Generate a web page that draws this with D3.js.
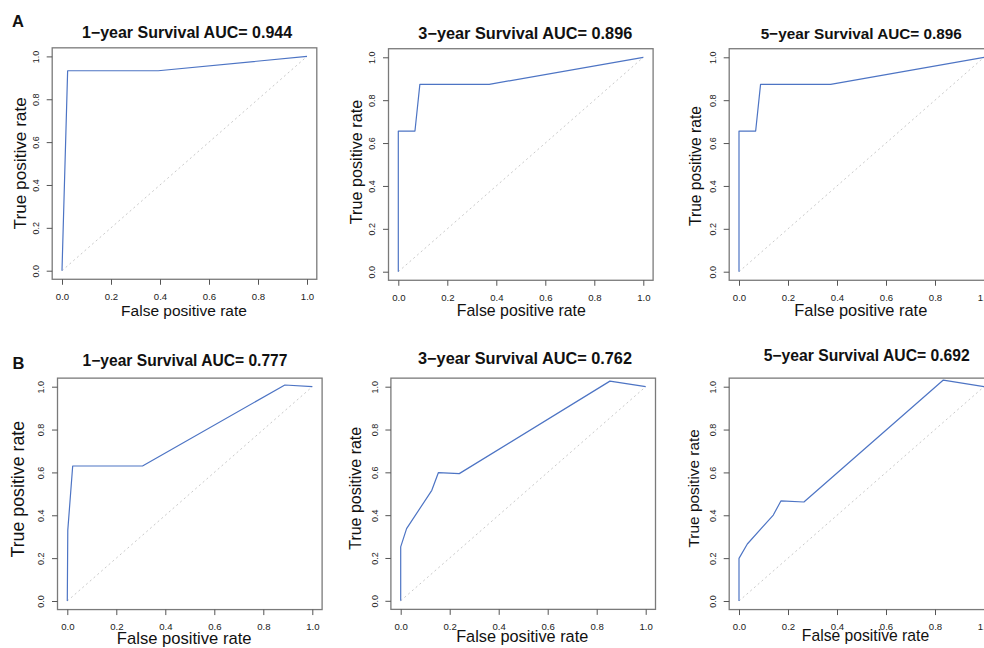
<!DOCTYPE html>
<html>
<head>
<meta charset="utf-8">
<script src="https://cdn.jsdelivr.net/npm/d3@7"></script>
<style>
  html, body { margin: 0; padding: 0; background: #fff; }
  svg { display: block; font-family: "Liberation Sans", Arial, Helvetica, sans-serif; }
</style>
</head>
<body>
<svg id="chart" width="984" height="648"></svg>
<script>
// ---------- DATA ----------
const rowLabels = ["A", "B"];
const titles = [
  "1\u2212year Survival AUC= 0.944",
  "3\u2212year Survival AUC= 0.896",
  "5\u2212year Survival AUC= 0.896",
  "1\u2212year Survival AUC= 0.777",
  "3\u2212year Survival AUC= 0.762",
  "5\u2212year Survival AUC= 0.692"
];
const xLabel = "False positive rate";
const yLabel = "True positive rate";
const tickValues = [0, 0.2, 0.4, 0.6, 0.8, 1.0];

const fprA1 = [0, 0.023, 0.393, 1];
const tprA1 = [0, 0.933, 0.933, 1];
const fprA3y = [0, 0, 0.068, 0.088, 0.371, 1];
const tprA3y = [0, 0.656, 0.656, 0.874, 0.874, 1];
const fprA5 = [0, 0, 0.068, 0.088, 0.374, 1];
const tprA5 = [0, 0.656, 0.656, 0.874, 0.874, 1];
const fprB1 = [0, 0.002, 0.022, 0.307, 0.888, 1];
const tprB1 = [0, 0.33, 0.63, 0.63, 1.008, 1];
const fprB3y = [0, 0, 0.024, 0.127, 0.154, 0.239, 0.854, 1];
const tprB3y = [0, 0.252, 0.337, 0.516, 0.599, 0.594, 1.026, 1];
const fprB5 = [0, 0, 0.034, 0.140, 0.171, 0.265, 0.834, 1];
const tprB5 = [0, 0.199, 0.266, 0.401, 0.467, 0.462, 1.031, 1];

const fprs = [fprA1, fprA3y, fprA5, fprB1, fprB3y, fprB5];
const tprs = [tprA1, tprA3y, tprA5, tprB1, tprB3y, tprB5];

// ---------- LAYOUT (pixels) ----------
// x0: pixel of fpr=0 ; y1/y0: pixel of tpr=1 / tpr=0
const layout = [
  {x0: 62,    y1: 56.4,  y0: 270.7, tx: 187,   tb: 37.8,  tf: 16,   xlx: 184,   xlb: 315.6, xlf: 15.5, ylx: 21.7,  ylc: 163.3, ylf: 17.2},
  {x0: 398.3, y1: 57.3,  y0: 271.7, tx: 525.3, tb: 38.6,  tf: 16.3, xlx: 521.3, xlb: 315.8, xlf: 15.9, ylx: 358.3, ylc: 162,   ylf: 16.2},
  {x0: 739,   y1: 57.3,  y0: 271.7, tx: 861.3, tb: 38.6,  tf: 15.3, xlx: 860.8, xlb: 315.9, xlf: 16.4, ylx: 696.7, ylc: 166,   ylf: 15.6},
  {x0: 67.3,  y1: 386.7, y0: 601,   tx: 185,   tb: 365.5, tf: 15.6, xlx: 184.2, xlb: 644.2, xlf: 16.6, ylx: 20,    ylc: 489.2, ylf: 17.8},
  {x0: 400.7, y1: 386.7, y0: 600.8, tx: 525,   tb: 364,   tf: 16.3, xlx: 522.2, xlb: 642.2, xlf: 16.3, ylx: 356.7, ylc: 488.3, ylf: 16},
  {x0: 739,   y1: 386.7, y0: 601,   tx: 866.7, tb: 360.5, tf: 15.7, xlx: 865.5, xlb: 640.8, xlf: 15.7, ylx: 695,   ylc: 488.3, ylf: 15.4}
];
const rowLabelPos = [{x: 12, y: 27}, {x: 12.5, y: 368.5}];

const xSpan = 245;
const lineColor = "#4d74c4";
const svg = d3.select("#chart");

rowLabels.forEach((lab, i) => {
  svg.append("text")
    .attr("x", rowLabelPos[i].x).attr("y", rowLabelPos[i].y)
    .attr("font-size", 16.5).attr("font-weight", "bold").attr("fill", "#111")
    .text(lab);
});

layout.forEach((L, i) => {
  const x = d3.scaleLinear().domain([-0.04, 1.04])
    .range([L.x0 - 0.04 * xSpan, L.x0 + 1.04 * xSpan]);
  const ySpan = L.y0 - L.y1;
  const y = d3.scaleLinear().domain([-0.04, 1.04])
    .range([L.y0 + 0.04 * ySpan, L.y1 - 0.04 * ySpan]);

  const g = svg.append("g");

  // diagonal reference line
  g.append("line")
    .attr("x1", x(0)).attr("y1", y(0)).attr("x2", x(1)).attr("y2", y(1))
    .attr("stroke", "#c9c9c9").attr("stroke-width", 1)
    .attr("stroke-dasharray", "2,3");

  // ROC curve
  const pts = fprs[i].map((f, k) => [f, tprs[i][k]]);
  g.append("path")
    .datum(pts)
    .attr("fill", "none")
    .attr("stroke", lineColor)
    .attr("stroke-width", 1.2)
    .attr("stroke-linejoin", "round")
    .attr("d", d3.line().x(d => x(d[0])).y(d => y(d[1])));

  // box
  g.append("rect")
    .attr("x", x(-0.04)).attr("y", y(1.04))
    .attr("width", x(1.04) - x(-0.04)).attr("height", y(-0.04) - y(1.04))
    .attr("fill", "none").attr("stroke", "#7a7a7a").attr("stroke-width", 1.3);

  // x axis
  const xa = g.append("g")
    .attr("transform", `translate(0,${y(-0.04)})`)
    .call(d3.axisBottom(x).tickValues(tickValues).tickFormat(d3.format(".1f"))
      .tickSize(5.5).tickSizeOuter(0).tickPadding(8.5));
  xa.select(".domain").remove();
  xa.selectAll(".tick line").attr("stroke", "#555");
  xa.selectAll(".tick text")
    .attr("font-size", 9.6).attr("fill", "#222")
    .attr("font-family", "Liberation Sans, Arial, sans-serif");

  // y axis
  const ya = g.append("g")
    .attr("transform", `translate(${x(-0.04)},0)`)
    .call(d3.axisLeft(y).tickValues(tickValues).tickFormat(d3.format(".1f"))
      .tickSize(5.5).tickSizeOuter(0));
  ya.select(".domain").remove();
  ya.selectAll(".tick line").attr("stroke", "#555");
  ya.selectAll(".tick text")
    .attr("transform", "rotate(-90)")
    .attr("x", 0).attr("y", -13.2).attr("dy", 0)
    .attr("text-anchor", "middle")
    .attr("font-size", 9).attr("fill", "#222")
    .attr("font-family", "Liberation Sans, Arial, sans-serif");

  // title
  svg.append("text")
    .attr("x", L.tx).attr("y", L.tb)
    .attr("text-anchor", "middle")
    .attr("font-size", L.tf).attr("font-weight", "bold").attr("fill", "#111")
    .text(titles[i]);

  // x label
  svg.append("text")
    .attr("x", L.xlx).attr("y", L.xlb)
    .attr("text-anchor", "middle")
    .attr("font-size", L.xlf).attr("fill", "#111")
    .text(xLabel);

  // y label
  const ylb = L.ylx + 0.25 * L.ylf;
  svg.append("text")
    .attr("transform", `translate(${ylb},${L.ylc}) rotate(-90)`)
    .attr("text-anchor", "middle")
    .attr("font-size", L.ylf).attr("fill", "#111")
    .text(yLabel);
});
</script>
</body>
</html>
